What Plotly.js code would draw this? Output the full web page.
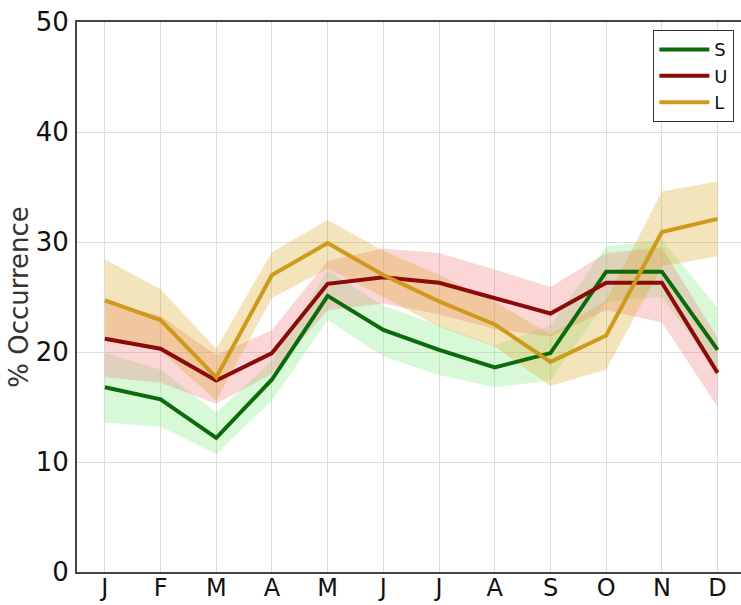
<!DOCTYPE html>
<html>
<head>
<meta charset="utf-8">
<script src="https://cdn.plot.ly/plotly-3.0.1.min.js"></script>
<style>
  html, body { margin: 0; padding: 0; background: #fff; }
  #chart { width: 741px; height: 605px; }
</style>
</head>
<body>
<div id="chart"></div>
<script>
// Monthly occurrence (%) for the three classes, with spread bands
const months = ['J', 'F', 'M', 'A', 'M', 'J', 'J', 'A', 'S', 'O', 'N', 'D'];

const sMean  = [16.8, 15.7, 12.2, 17.5, 25.1, 22.0, 20.2, 18.6, 19.9, 27.3, 27.3, 20.2];
const sUpper = [19.9, 18.4, 14.5, 19.2, 27.4, 24.2, 22.4, 20.6, 22.4, 29.6, 30.2, 24.0];
const sLower = [13.6, 13.2, 10.7, 15.6, 22.9, 19.6, 17.9, 16.8, 17.4, 24.6, 25.0, 18.2];

const uMean  = [21.2, 20.3, 17.4, 19.9, 26.2, 26.8, 26.3, 24.9, 23.5, 26.3, 26.3, 18.1];
const uUpper = [24.5, 23.3, 19.7, 22.0, 28.3, 29.4, 29.0, 27.5, 25.9, 29.0, 29.5, 21.3];
const uLower = [17.7, 17.2, 15.3, 18.0, 23.8, 24.4, 23.4, 22.1, 21.4, 23.8, 22.7, 15.0];

const lMean  = [24.7, 22.9, 17.7, 27.0, 29.9, 27.0, 24.6, 22.5, 19.1, 21.5, 30.9, 32.1];
const lUpper = [28.4, 25.7, 20.3, 29.1, 32.0, 29.2, 27.0, 24.6, 21.6, 24.7, 34.6, 35.5];
const lLower = [21.1, 20.1, 15.6, 24.9, 27.6, 25.0, 22.3, 20.5, 16.9, 18.4, 27.8, 28.7];

const xs = months.map((_, i) => i);

function band(upper, lower, fillcolor) {
  return {
    x: xs.concat(xs.slice().reverse()),
    y: upper.concat(lower.slice().reverse()),
    type: 'scatter',
    mode: 'lines',
    fill: 'toself',
    fillcolor: fillcolor,
    line: { width: 0 },
    hoverinfo: 'skip',
    showlegend: false
  };
}

function meanLine(y, name, color) {
  return {
    x: xs,
    y: y,
    type: 'scatter',
    mode: 'lines',
    name: name,
    line: { color: color, width: 4 }
  };
}

const traces = [
  band(sUpper, sLower, 'rgba(144, 238, 144, 0.35)'),
  band(uUpper, uLower, 'rgba(240, 128, 128, 0.32)'),
  band(lUpper, lLower, 'rgba(218, 165, 32, 0.30)'),
  meanLine(sMean, 'S', '#0b6b0b'),
  meanLine(uMean, 'U', '#8b0a0a'),
  meanLine(lMean, 'L', '#cf9a1c')
];

const layout = {
  width: 741,
  height: 605,
  margin: { l: 77, r: 0, t: 22, b: 33 },
  paper_bgcolor: '#ffffff',
  plot_bgcolor: '#ffffff',
  font: { family: 'DejaVu Sans, sans-serif', color: '#111' },
  showlegend: true,
  legend: {
    x: 0.868, y: 0.985, xanchor: 'left', yanchor: 'top',
    bordercolor: '#333', borderwidth: 1, bgcolor: '#ffffff',
    font: { size: 18, color: '#111' },
    itemwidth: 50
  },
  xaxis: {
    range: [-0.5, 11.42],
    tickvals: xs,
    ticktext: months,
    tickfont: { size: 24, color: '#111' },
    showgrid: true,
    gridcolor: '#dcdcdc',
    gridwidth: 1,
    zeroline: false,
    showline: true,
    linecolor: '#444',
    linewidth: 2,
    mirror: true,
    ticks: '',
    ticklabelstandoff: -7
  },
  yaxis: {
    range: [0, 50],
    tickvals: [0, 10, 20, 30, 40, 50],
    tickfont: { size: 26, color: '#111' },
    showgrid: true,
    gridcolor: '#dcdcdc',
    gridwidth: 1,
    zeroline: false,
    showline: true,
    linecolor: '#444',
    linewidth: 2,
    mirror: false,
    ticks: '',
    ticklabelstandoff: 1,
    title: { text: '% Occurrence', font: { size: 26, color: '#333' }, standoff: 0 }
  }
};

Plotly.newPlot('chart', traces, layout, { staticPlot: true, displayModeBar: false });
</script>
</body>
</html>
